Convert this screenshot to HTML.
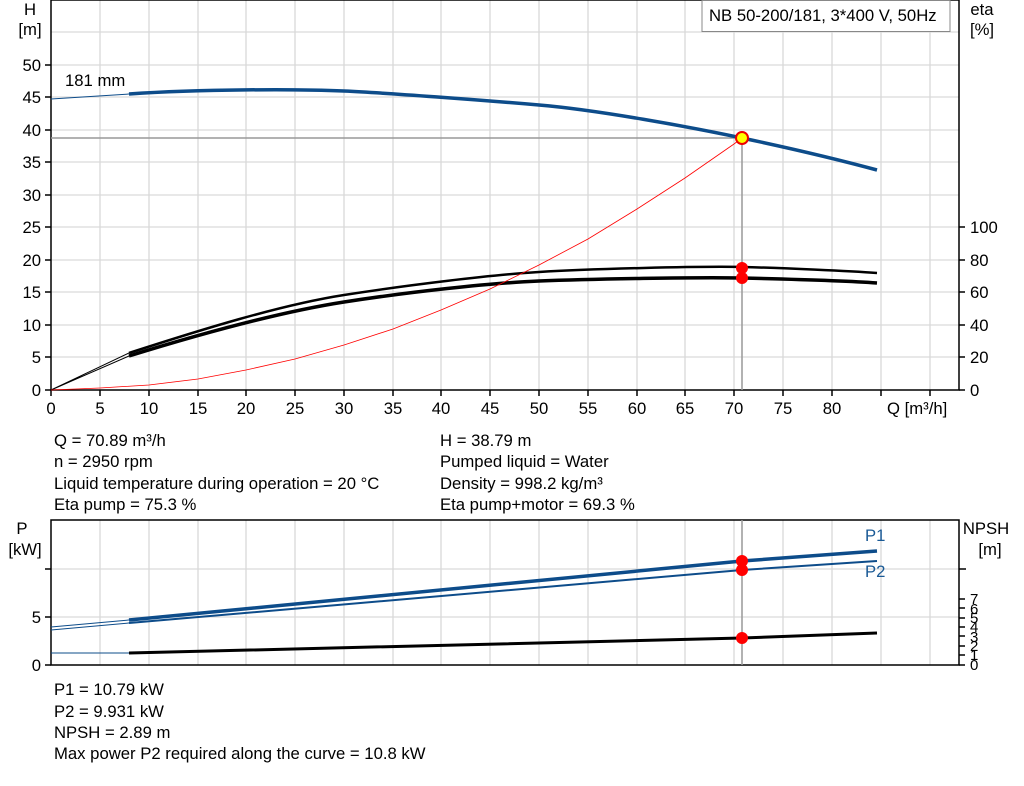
<!DOCTYPE html>
<html><head><meta charset="utf-8"><style>
body{margin:0;background:#fff;width:1024px;height:781px;overflow:hidden}
svg{font-family:"Liberation Sans",Arial,sans-serif;font-size:16.7px;fill:#000}
</style></head><body>
<svg width="1024" height="781" viewBox="0 0 1024 781">
<g stroke="#d9d9d9" stroke-width="1.3" fill="none">
<path d="M100,0V390M149,0V390M198,0V390M246,0V390M295,0V390M344,0V390M393,0V390M441,0V390M490,0V390M539,0V390M588,0V390M637,0V390M685,0V390M734,0V390M783,0V390M832,0V390M881,0V390M930,0V390"/>
<path d="M51,32H959M51,65H959M51,97H959M51,130H959M51,162H959M51,195H959M51,227H959M51,260H959M51,292H959M51,325H959M51,357H959"/>
<path d="M100,520V665M149,520V665M198,520V665M246,520V665M295,520V665M344,520V665M393,520V665M441,520V665M490,520V665M539,520V665M588,520V665M637,520V665M685,520V665M734,520V665M783,520V665M832,520V665M881,520V665M930,520V665"/>
<path d="M51,569H959M51,617H959"/>
</g>
<g stroke="#000" stroke-width="1.5" fill="none">
<path d="M51,0V390H959V0H51"/>
<path d="M51,520H959V665H51Z"/>
<path d="M45,65H51M45,97H51M45,130H51M45,162H51M45,195H51M45,227H51M45,260H51M45,292H51M45,325H51M45,357H51M45,390H51"/>
<path d="M51,390v6M100,390v6M149,390v6M198,390v6M246,390v6M295,390v6M344,390v6M393,390v6M441,390v6M490,390v6M539,390v6M588,390v6M637,390v6M685,390v6M734,390v6M783,390v6M832,390v6M881,390v6M930,390v6"/>
<path d="M959,227h6M959,260h6M959,292h6M959,325h6M959,357h6M959,390h6"/>
<path d="M45,569H51M45,617H51M45,665H51"/>
<path d="M959,569h7M959,599h6M959,608h6M959,618h6M959,627h6M959,636h6M959,646h6M959,655h6M959,665h6"/>
</g>
<path d="M51,138H742V390" stroke="#999" stroke-width="1.5" fill="none"/>
<path d="M51,99 L129,94" stroke="#0d4c8a" stroke-width="1" fill="none"/>
<path d="M129,94 C200,89 300,89 344,91 S480,100 539,105 S690,127 742,138 S840,160 877,170" stroke="#0d4c8a" stroke-width="3.5" fill="none"/>
<path d="M51,390 L129,353 M51,390 L129,356" stroke="#000" stroke-width="1" fill="none"/>
<path d="M129,353 C200,330 280,305 344,295 S490,275 539,272 S700,266 742,267 S850,271 877,273" stroke="#000" stroke-width="2.5" fill="none"/>
<path d="M129,356 C200,334 280,312 344,302 S490,283 539,281 S700,277 742,278 S850,281 877,283" stroke="#000" stroke-width="3.5" fill="none"/>
<polyline points="51,390 100,388 149,385 198,379 246,370 295,359 344,345 393,329 441,310 490,289 539,265 588,239 637,209 685,178 734,144 742,138" stroke="#f00" stroke-width="0.8" fill="none"/>
<circle cx="742" cy="138" r="6" fill="#ff0" stroke="#e00" stroke-width="2"/>
<circle cx="742" cy="268" r="6" fill="#f00"/>
<circle cx="742" cy="278" r="6" fill="#f00"/>
<path d="M742,520V665" stroke="#999" stroke-width="1.5"/>
<path d="M51,627L129,620M51,630L129,623M51,653L129,653" stroke="#0d4c8a" stroke-width="1" fill="none"/>
<path d="M129,620 L742,561 L877,551" stroke="#0d4c8a" stroke-width="3.5" fill="none"/>
<path d="M129,623 L742,570 L877,561" stroke="#0d4c8a" stroke-width="2" fill="none"/>
<path d="M129,653 L742,638 L877,633" stroke="#000" stroke-width="3" fill="none"/>
<circle cx="742" cy="561" r="6" fill="#f00"/>
<circle cx="742" cy="570" r="6" fill="#f00"/>
<circle cx="742" cy="638" r="6" fill="#f00"/>
<g text-anchor="middle">
<text x="30" y="15">H</text><text x="30" y="35">[m]</text>
<text x="982" y="15">eta</text><text x="982" y="35">[%]</text>
</g>
<g text-anchor="end">
<text x="41" y="71">50</text><text x="41" y="103">45</text><text x="41" y="136">40</text><text x="41" y="168">35</text><text x="41" y="201">30</text><text x="41" y="233">25</text><text x="41" y="266">20</text><text x="41" y="298">15</text><text x="41" y="331">10</text><text x="41" y="363">5</text><text x="41" y="396">0</text>
<text x="41" y="623">5</text><text x="41" y="671">0</text>
</g>
<g>
<text x="970" y="233">100</text><text x="970" y="266">80</text><text x="970" y="298">60</text><text x="970" y="331">40</text><text x="970" y="363">20</text><text x="970" y="396">0</text>
</g>
<g text-anchor="middle">
<text x="51" y="414">0</text><text x="100" y="414">5</text><text x="149" y="414">10</text><text x="198" y="414">15</text><text x="246" y="414">20</text><text x="295" y="414">25</text><text x="344" y="414">30</text><text x="393" y="414">35</text><text x="441" y="414">40</text><text x="490" y="414">45</text><text x="539" y="414">50</text><text x="588" y="414">55</text><text x="637" y="414">60</text><text x="685" y="414">65</text><text x="734" y="414">70</text><text x="783" y="414">75</text><text x="832" y="414">80</text>
</g>
<text x="887" y="414">Q [m³/h]</text>
<text x="65" y="86">181 mm</text>
<rect x="702" y="0.5" width="248" height="31" fill="#fff" stroke="#888"/>
<text x="709" y="21">NB 50-200/181, 3*400 V, 50Hz</text>
<g>
<text x="54" y="446">Q = 70.89 m³/h</text>
<text x="54" y="467">n = 2950 rpm</text>
<text x="54" y="489">Liquid temperature during operation = 20 °C</text>
<text x="54" y="510">Eta pump = 75.3 %</text>
<text x="440" y="446">H = 38.79 m</text>
<text x="440" y="467">Pumped liquid = Water</text>
<text x="440" y="489">Density = 998.2 kg/m³</text>
<text x="440" y="510">Eta pump+motor = 69.3 %</text>
<text x="54" y="695">P1 = 10.79 kW</text>
<text x="54" y="717">P2 = 9.931 kW</text>
<text x="54" y="738">NPSH = 2.89 m</text>
<text x="54" y="759">Max power P2 required along the curve = 10.8 kW</text>
</g>
<g text-anchor="middle">
<text x="22" y="534">P</text><text x="25" y="555">[kW]</text>
<text x="986" y="534">NPSH</text><text x="990" y="555">[m]</text>
</g>
<text x="865" y="541" style="fill:#1a5a96">P1</text>
<text x="865" y="577" style="fill:#1a5a96">P2</text>
<g font-size="15">
<text x="970" y="604">7</text><text x="970" y="614">6</text><text x="970" y="623">5</text><text x="970" y="632">4</text><text x="970" y="642">3</text><text x="970" y="651">2</text><text x="970" y="660">1</text><text x="970" y="670">0</text>
</g>
</svg>
</body></html>
